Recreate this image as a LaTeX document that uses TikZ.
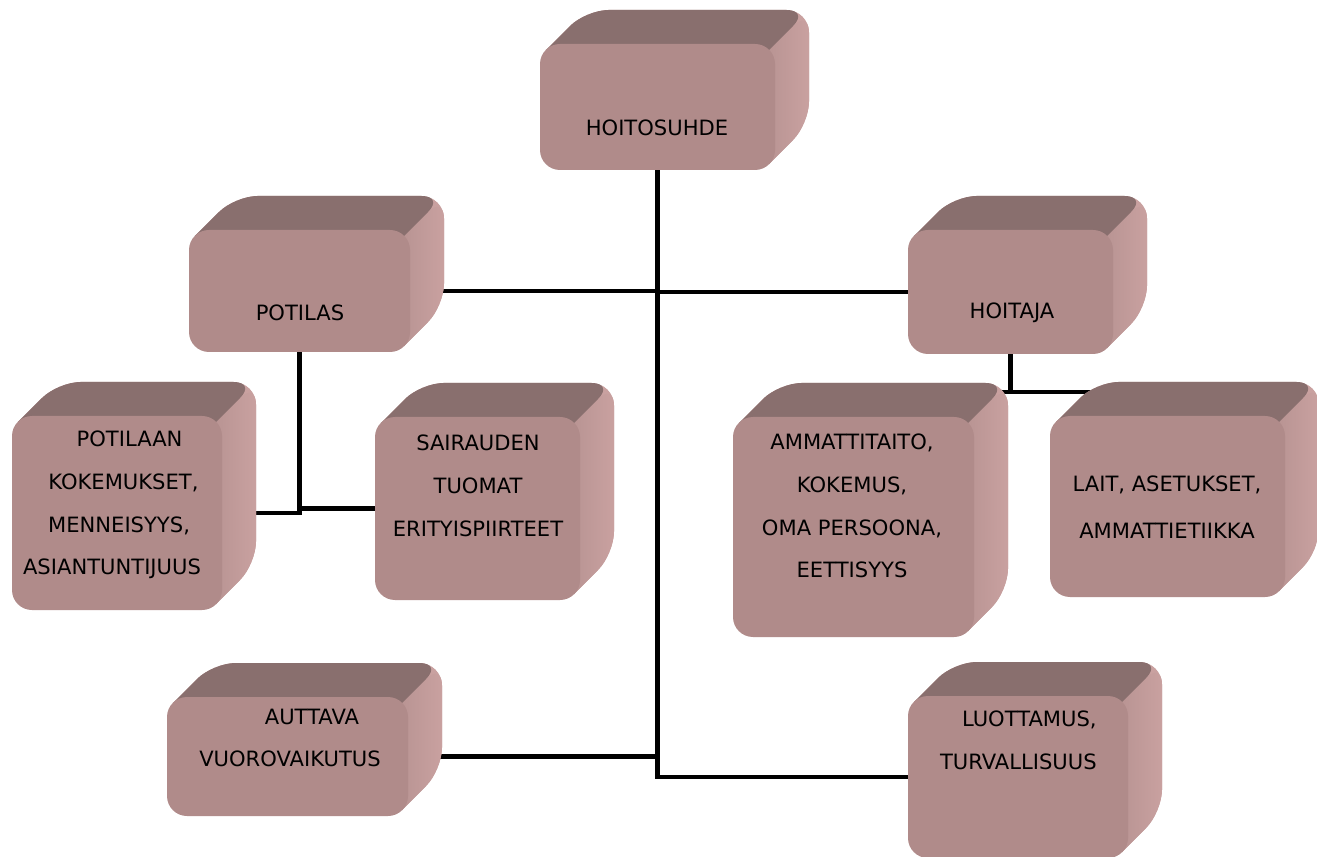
\documentclass[tikz,border=0pt]{standalone}
\usepackage{fontspec}
\setmainfont{DejaVu Sans}
\usetikzlibrary{backgrounds,calc}
\definecolor{cubefrontcol}{RGB}{176,139,138}
\definecolor{cubetopcol}{RGB}{137,111,110}
\definecolor{cubesidecol}{RGB}{201,161,160}
\newcommand\cubedepth{34}
% name, left, top, right, bottom (pixel units)
\newcommand\cubebox[5]{%
  \fill[cubesidecol] ({#2+6},{#3+6}) [rounded corners=0.45cm] -- ({#2+12+\cubedepth},{#3-\cubedepth})
    -- ({#4+\cubedepth},{#3-\cubedepth}) -- ({#4+\cubedepth},{#5-12-\cubedepth})
    [sharp corners] -- ({#4-6},{#5-6}) -- cycle;
  \shade[cubeside] ({#4-6},{#3+6}) [rounded corners=0.45cm] -- ({#4+\cubedepth},{#3-\cubedepth})
    -- ({#4+\cubedepth},{#5-12-\cubedepth}) [sharp corners] -- ({#4-6},{#5-6}) -- cycle;
  \fill[cubetopcol] ({#2+6},{#3+6}) [rounded corners=0.45cm] -- ({#2+12+\cubedepth},{#3-\cubedepth})
    -- ({#4+\cubedepth},{#3-\cubedepth}) [sharp corners] -- ({#4-6},{#3+6}) -- cycle;
  \node[cubefront, minimum width={(#4-#2)*0.02cm}, minimum height={(#5-#3)*0.02cm}]
    (#1) at ({(#2+#4)/2},{(#3+#5)/2}) {};
}
\tikzset{
  cubeside/.style={left color=cubesidecol!75!cubetopcol, right color=cubesidecol},
  cubefront/.style={rectangle, fill=cubefrontcol, rounded corners=0.4cm,
    inner sep=0pt, outer sep=0pt},
  boxtext/.style={align=center, inner sep=0pt, font=\fontsize{12}{24.3}\selectfont},
  link/.style={draw=black, line width=2.8pt}
}

\begin{document}
\begin{tikzpicture}[x=0.02cm, y=-0.02cm]
\useasboundingbox (0,0) rectangle (1317,857);

\cubebox{hoitosuhde}{540}{44}{775}{170}
\cubebox{potilas}{189}{230}{410}{352}
\cubebox{hoitaja}{908}{230}{1113}{354}
\cubebox{kokemukset}{12}{416}{222}{610}
\cubebox{sairaus}{375}{417}{580}{600}
\cubebox{ammattitaito}{733}{417}{974}{637}
\cubebox{lait}{1050}{416}{1285}{597}
\cubebox{vuorovaikutus}{167}{697}{408}{816}
\cubebox{luottamus}{908}{696}{1128}{858}

\node[boxtext] (hoitosuhde-txt) at (657,128) {HOITOSUHDE};
\node[boxtext] (potilas-txt) at (300,313) {POTILAS};
\node[boxtext] (hoitaja-txt) at (1012,313) {HOITAJA};
\node[boxtext] (kokemukset-txt) at (112,505)
  {\hspace*{20pt}POTILAAN\\ \hspace*{13pt}KOKEMUKSET,\\ \hspace*{8pt}MENNEISYYS,\\ ASIANTUNTIJUUS};
\node[boxtext] (sairaus-txt) at (478,486) {SAIRAUDEN\\ TUOMAT\\ ERITYISPIIRTEET};
\node[boxtext] (ammattitaito-txt) at (852,506)
  {AMMATTITAITO,\\ KOKEMUS,\\ OMA PERSOONA,\\ EETTISYYS};
\node[boxtext, font=\fontsize{12}{27}\selectfont] (lait-txt) at (1167,507)
  {LAIT, ASETUKSET,\\ AMMATTIETIIKKA};
\node[boxtext] (vuorovaikutus-txt) at (290,738) {\hspace*{25pt}AUTTAVA\\ VUOROVAIKUTUS};
\node[boxtext, align=right, anchor=east] (luottamus-txt) at (1097,740)
  {LUOTTAMUS,\\ TURVALLISUUS};

% connectors behind the boxes
\coordinate (hoitajabar) at ($(hoitaja.south)+(0,38)$);
\begin{pgfonlayer}{background}
\draw[link] (potilas.east) -| (hoitosuhde.south);
\draw[link] (hoitaja.west) -| (hoitosuhde.south);
\draw[link] (vuorovaikutus.east) -| (hoitosuhde.south);
\draw[link] (luottamus.west) -| (hoitosuhde.south);
\draw[link] (potilas.south) |- (kokemukset.east);
\draw[link] (potilas.south) |- (sairaus.west);
\draw[link] (hoitaja.south) -- (hoitajabar);
\draw[link] (ammattitaito.center |- hoitajabar) -- (lait.center |- hoitajabar);
\end{pgfonlayer}
\end{tikzpicture}
\end{document}
